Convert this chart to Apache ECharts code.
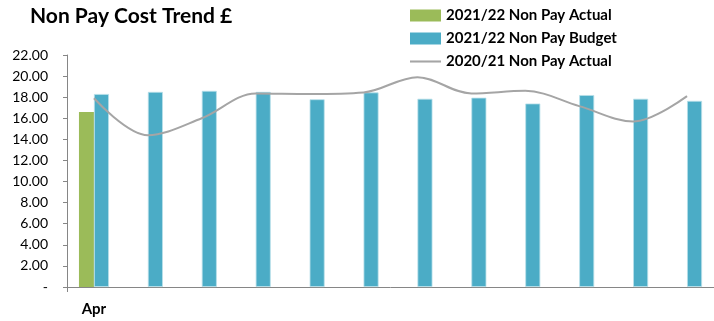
<!DOCTYPE html>
<html>
<head>
<meta charset="utf-8">
<script src="https://cdn.jsdelivr.net/npm/echarts@6/dist/echarts.min.js"></script>
<style>
  html, body { margin: 0; padding: 0; background: #fff; }
  #chart { width: 714px; height: 321px; }
</style>
</head>
<body>
<div id="chart"></div>
<script>
// data
var months = ['Apr', 'May', 'Jun', 'Jul', 'Aug', 'Sep', 'Oct', 'Nov', 'Dec', 'Jan', 'Feb', 'Mar'];
var actual2122 = [16.6, null, null, null, null, null, null, null, null, null, null, null];
var budget2122 = [18.3, 18.5, 18.6, 18.5, 17.8, 18.45, 17.85, 17.95, 17.4, 18.2, 17.85, 17.65];
var actual2021 = [17.9, 14.4, 16.0, 18.35, 18.3, 18.45, 19.9, 18.35, 18.6, 17.15, 15.7, 18.1];

var font = 'Lato';

var myChart = echarts.init(document.getElementById('chart'));

var option = {
    animation: false,
    title: {
        text: 'Non Pay Cost Trend £',
        left: 25,
        top: 1,
        textStyle: {
            fontFamily: font,
            fontSize: 21,
            fontWeight: 'bold',
            color: '#000'
        }
    },
    legend: {
        orient: 'vertical',
        left: 405,
        top: 3,
        itemWidth: 31,
        itemHeight: 12,
        itemGap: 8,
        textStyle: {
            fontFamily: font,
            fontSize: 15,
            fontWeight: 'bold',
            color: '#000'
        },
        data: [
            {name: '2021/22 Non Pay Actual', icon: 'rect'},
            {name: '2021/22 Non Pay Budget', icon: 'rect', itemStyle: {borderWidth: 0}},
            {name: '2020/21 Non Pay Actual', icon: 'path://M0,0 L30,0 L30,2 L0,2 Z'}
        ]
    },
    grid: {
        left: 67,
        right: 0,
        top: 55,
        bottom: 34
    },
    xAxis: {
        type: 'category',
        data: months,
        axisLine: {lineStyle: {color: '#868686', width: 1}},
        axisTick: {show: true, length: 5, lineStyle: {color: '#868686'}},
        axisLabel: {
            interval: function (i) { return i === 0; },
            margin: 15,
            fontFamily: font,
            fontSize: 15,
            fontWeight: 'bold',
            color: '#000'
        }
    },
    yAxis: {
        type: 'value',
        min: 0,
        max: 22,
        interval: 2,
        splitLine: {show: false},
        axisLine: {show: true, lineStyle: {color: '#868686', width: 1}},
        axisTick: {show: true, length: 4, lineStyle: {color: '#868686'}},
        axisLabel: {
            margin: 19,
            fontFamily: font,
            fontSize: 14,
            color: '#000',
            formatter: function (v) { return v === 0 ? '-' : v.toFixed(2); }
        }
    },
    series: [
        {
            name: '2021/22 Non Pay Actual',
            type: 'bar',
            data: actual2122,
            barWidth: 15,
            barGap: '0%',
            itemStyle: {color: '#9BBB59'}
        },
        {
            name: '2021/22 Non Pay Budget',
            type: 'bar',
            data: budget2122,
            barWidth: 15,
            barGap: '0%',
            itemStyle: {color: '#4BACC6', borderColor: '#b9e0ea', borderWidth: 0.8}
        },
        {
            name: '2020/21 Non Pay Actual',
            type: 'line',
            data: actual2021,
            smooth: 0.35,
            symbol: 'none',
            lineStyle: {color: '#A5A5A5', width: 2},
            itemStyle: {color: '#A5A5A5'}
        }
    ]
};

option && myChart.setOption(option);
</script>
</body>
</html>
